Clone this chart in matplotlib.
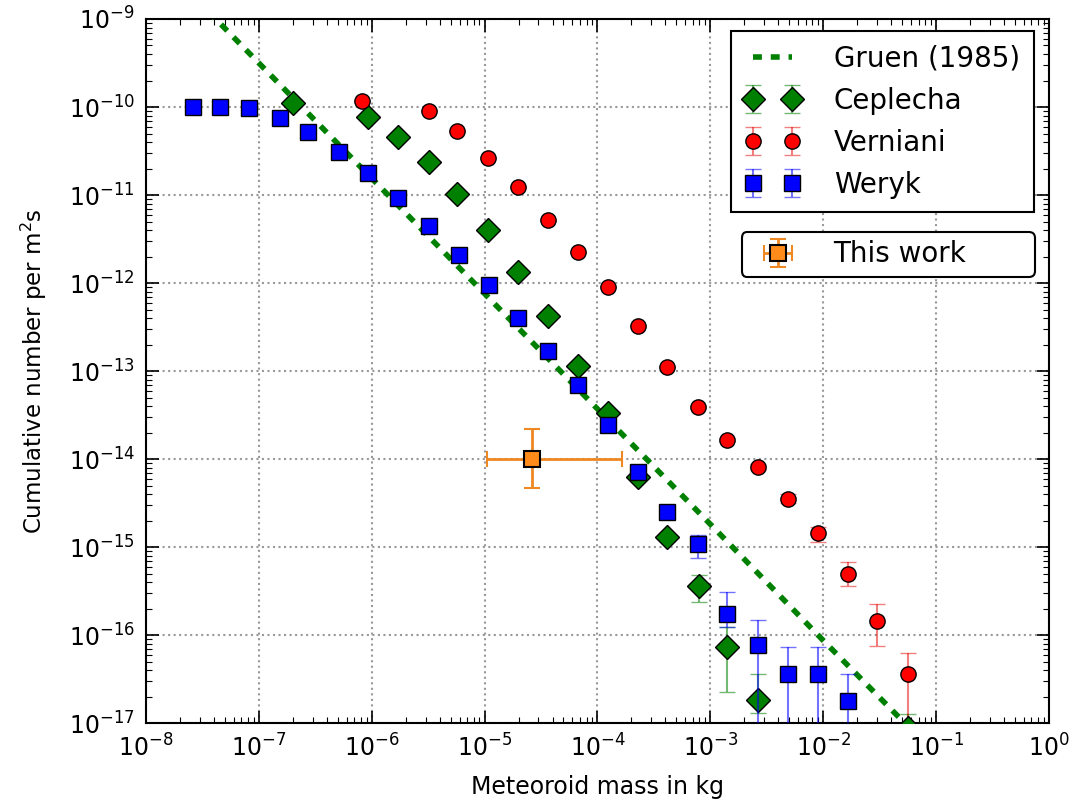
import numpy as np
import matplotlib
matplotlib.use('Agg')
import matplotlib.pyplot as plt

plt.rcParams['font.family'] = ['DejaVu Sans']
plt.rcParams['xtick.direction'] = 'in'
plt.rcParams['ytick.direction'] = 'in'

# ---- data (log10 values) ----
gruen_m = [-8, -7, -6, -5, -4, -3, -2, -1]
gruen_n = [-8.19, -9.50, -10.81, -12.12, -13.43, -14.74, -16.06, -17.36]

weryk_m = [-7.58, -7.34, -7.09, -6.81, -6.56, -6.29, -6.03, -5.77, -5.49, -5.23, -4.96, -4.70,
           -4.44, -4.17, -3.91, -3.64, -3.38, -3.11, -2.85, -2.58, -2.31, -2.05, -1.78]
weryk_n = [-10.0, -10.0, -10.01, -10.13, -10.28, -10.51, -10.75, -11.03, -11.35, -11.68, -12.02, -12.40,
           -12.77, -13.16, -13.61, -14.15, -14.60, -14.97, -15.76, -16.11, -16.44, -16.44, -16.75]
weryk_hi = [-10.0, -10.0, -10.01, -10.13, -10.28, -10.51, -10.75, -11.03, -11.35, -11.68, -12.02, -12.40,
            -12.75, -13.14, -13.58, -14.11, -14.52, -14.86, -15.51, -15.83, -16.14, -16.14, -16.44]
weryk_lo = [-10.0, -10.0, -10.01, -10.13, -10.28, -10.51, -10.75, -11.03, -11.35, -11.68, -12.02, -12.40,
            -12.79, -13.18, -13.64, -14.19, -14.68, -15.125, -15.91, -18, -18, -18, -18]

cep_m = [-6.70, -6.03, -5.77, -5.49, -5.24, -4.97, -4.70, -4.44, -4.17, -3.91, -3.64, -3.38,
         -3.10, -2.85, -2.58, -1.25]
cep_n = [-9.955, -10.11, -10.34, -10.625, -10.99, -11.40, -11.875, -12.375, -12.94, -13.48, -14.20, -14.89,
         -15.44, -16.14, -16.74, -17.05]
cep_hi = [-9.955, -10.11, -10.34, -10.625, -10.99, -11.40, -11.875, -12.375, -12.94, -13.47, -14.18, -14.85,
          -15.32, -15.91, -16.44, -16.9]
cep_lo = [-9.955, -10.11, -10.34, -10.625, -10.99, -11.40, -11.875, -12.375, -12.94, -13.49, -14.22, -14.93,
          -15.625, -16.65, -16.89, -18]

ver_m = [-6.09, -5.49, -5.24, -4.97, -4.70, -4.44, -4.17, -3.91, -3.64, -3.38, -3.11, -2.85,
         -2.58, -2.31, -2.05, -1.78, -1.52, -1.25]
ver_n = [-9.93, -10.045, -10.27, -10.58, -10.91, -11.28, -11.65, -12.05, -12.49, -12.95, -13.41, -13.78,
         -14.09, -14.45, -14.84, -15.30, -15.84, -16.44]
ver_hi = [-9.93, -10.045, -10.27, -10.58, -10.91, -11.28, -11.65, -12.05, -12.49, -12.95, -13.40, -13.76,
          -14.06, -14.40, -14.77, -15.17, -15.65, -16.20]
ver_lo = [-9.93, -10.045, -10.27, -10.58, -10.91, -11.28, -11.65, -12.05, -12.49, -12.95, -13.42, -13.80,
          -14.12, -14.50, -14.94, -15.44, -16.125, -18]

tw_m, tw_m_lo, tw_m_hi = -4.58, -4.98, -3.78
tw_n, tw_n_lo, tw_n_hi = -14.0, -14.33, -13.66


def p(a):
    return 10.0 ** np.array(a, dtype=float)


def err(v, lo, hi):
    v = p(v)
    return [v - p(lo), p(hi) - v]


fig = plt.figure(figsize=(10.73, 8.08), dpi=100)
ax = fig.add_axes([0.136, 0.105, 0.8416, 0.8715])

gl, = ax.plot(p(gruen_m), p(gruen_n), color='green', ls=(0, (1.6, 1.6)), lw=4, label='Gruen (1985)', zorder=3)

eb_c = ax.errorbar(p(cep_m), p(cep_n), yerr=err(cep_n, cep_lo, cep_hi), fmt='D', color='green',
                   ms=12, mec='black', mew=1, ecolor=(0, 0.5, 0, 0.55), elinewidth=1.5, capsize=6,
                   capthick=1.5, label='Ceplecha', zorder=4)
eb_v = ax.errorbar(p(ver_m), p(ver_n), yerr=err(ver_n, ver_lo, ver_hi), fmt='o', color='red',
                   ms=11, mec='black', mew=1, ecolor=(0.9, 0, 0, 0.5), elinewidth=1.5, capsize=6,
                   capthick=1.5, label='Verniani', zorder=4)
eb_w = ax.errorbar(p(weryk_m), p(weryk_n), yerr=err(weryk_n, weryk_lo, weryk_hi), fmt='s', color='blue',
                   ms=12, mec='black', mew=1, ecolor=(0, 0, 1, 0.55), elinewidth=1.5, capsize=6,
                   capthick=1.5, label='Weryk', zorder=5)
tw = ax.errorbar([10 ** tw_m], [10 ** tw_n],
                 xerr=[[10 ** tw_m - 10 ** tw_m_lo], [10 ** tw_m_hi - 10 ** tw_m]],
                 yerr=[[10 ** tw_n - 10 ** tw_n_lo], [10 ** tw_n_hi - 10 ** tw_n]],
                 fmt='s', color='#ff8c1a', ms=11, mec='black', mew=1.5, ecolor='#ee8822',
                 elinewidth=2, capsize=6, capthick=1.5, label='This work', zorder=6)

ax.set_xscale('log')
ax.set_yscale('log')
ax.set_xlim(1e-8, 1)
ax.set_ylim(1e-17, 1e-9)
ax.set_xticks(10.0 ** np.arange(-8, 1))
ax.set_yticks(10.0 ** np.arange(-17, -8))
ax.tick_params(which='major', length=9, width=1.2, labelsize=17, top=True, right=True, pad=8)
ax.tick_params(which='minor', length=4, width=0.8, top=True, right=True)
ax.grid(True, which='major', ls=':', color='0.6', lw=1.5)
for s in ax.spines.values():
    s.set_linewidth(1.5)

ax.set_xlabel('Meteoroid mass in kg', fontsize=17, labelpad=10)
ax.set_ylabel('Cumulative number per m$^2$s', fontsize=16.5, labelpad=14)

leg1 = ax.legend(handles=[gl, eb_c, eb_v, eb_w], loc='upper right', bbox_to_anchor=(0.983, 0.983),
                 borderaxespad=0, numpoints=2, fancybox=False, fontsize=20, handlelength=2.0,
                 handletextpad=1.2, labelspacing=0.5, borderpad=0.5, framealpha=1)
leg1.get_frame().set_edgecolor('black')
leg1.get_frame().set_linewidth(1.5)
ax.add_artist(leg1)

leg2 = ax.legend(handles=[tw], loc='upper left', bbox_to_anchor=(0.660, 0.4, 0.3245, 0.2974),
                 mode='expand', borderaxespad=0, numpoints=1, fancybox=True, fontsize=20,
                 handlelength=2.0, handletextpad=1.0, framealpha=1, borderpad=0.3)
leg2.get_frame().set_edgecolor('black')
leg2.get_frame().set_linewidth(1.5)

fig.savefig('out.png', dpi=100, facecolor='white')
